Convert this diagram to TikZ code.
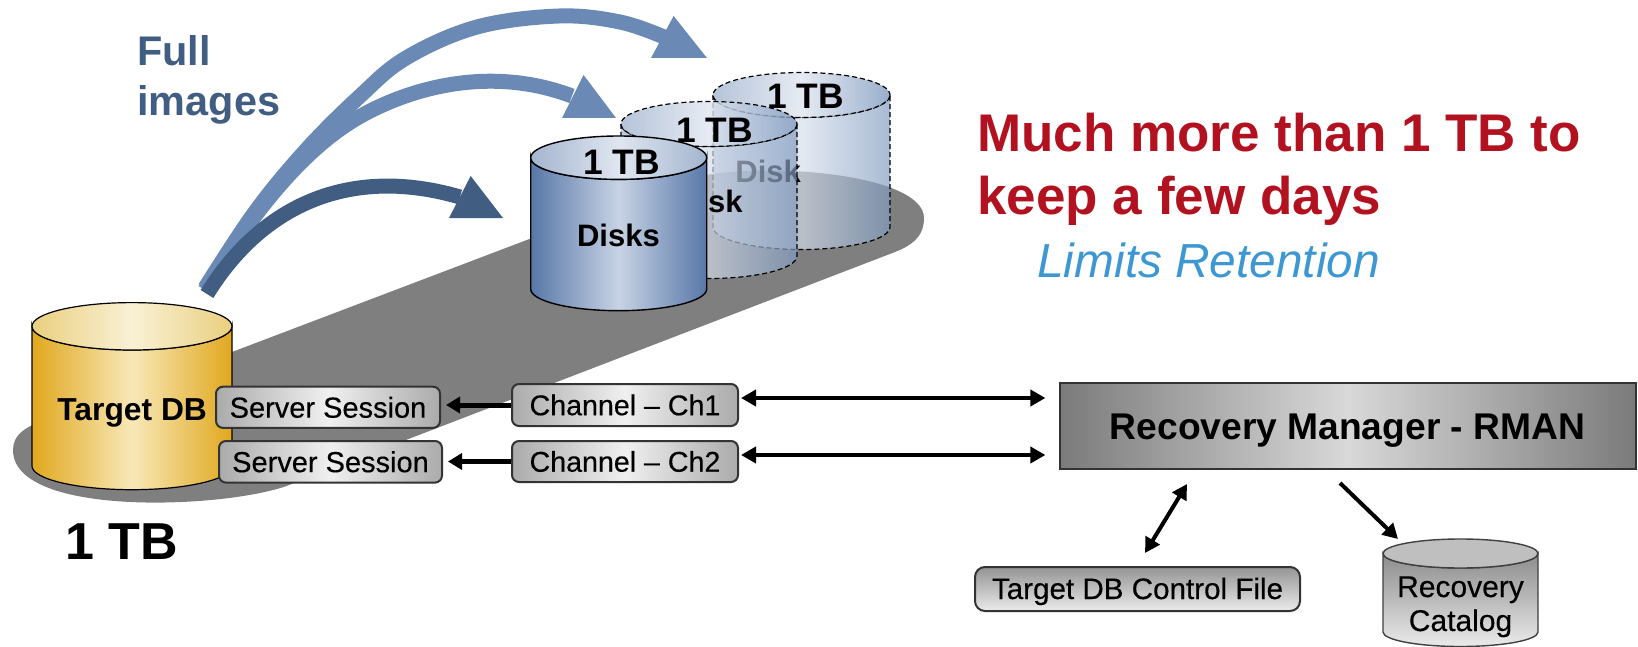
\documentclass[tikz,border=0pt]{standalone}
\usepackage{fontspec}
\setmainfont{Liberation Sans}
\newfontfamily\medfont[FakeBold=0.35]{Liberation Sans}
\usetikzlibrary{arrows.meta}
\definecolor{pillgray}{HTML}{7F7F7F}
\definecolor{arrowlight}{HTML}{6A8AB5}
\definecolor{arrowdark}{HTML}{425D82}
\definecolor{redtxt}{HTML}{B2121F}
\definecolor{bluetxt}{HTML}{3D97D3}
\newcommand\fs[1]{\fontsize{#1}{#1}\selectfont}
\newcommand\mycyl[7]{%
  \pgfmathsetmacro\cx{(#1+#2)/2}\pgfmathsetmacro\rx{(#2-#1)/2}%
  \pgfmathsetmacro\krx{0.5523*\rx}\pgfmathsetmacro\kry{0.5523*#5}%
  \pgfmathsetmacro\ba{#4+\kry}\pgfmathsetmacro\bb{#4+#5}%
  \pgfmathsetmacro\ta{#3+\kry}\pgfmathsetmacro\tb{#3+#5}%
  \pgfmathsetmacro\xa{\cx-\krx}\pgfmathsetmacro\xb{\cx+\krx}%
  \path[#6] (#1,#3) -- (#1,#4) .. controls (#1,\ba) and (\xa,\bb) .. (\cx,\bb)
    .. controls (\xb,\bb) and (#2,\ba) .. (#2,#4) -- (#2,#3)
    .. controls (#2,\ta) and (\xb,\tb) .. (\cx,\tb)
    .. controls (\xa,\tb) and (#1,\ta) .. (#1,#3) -- cycle;
  \path[#7] (\cx,#3) ellipse [x radius=\rx, y radius=#5];
}
\tikzset{
  txt/.style={inner sep=0pt,anchor=base west,text=black},
  bigarrow/.style={line width=7.5pt,line cap=butt},
  headlight/.style={fill=arrowlight},
  headdark/.style={fill=arrowdark},
  sbox/.style={draw=black!80,line width=1pt,rounded corners=3.5pt,inner sep=0pt,
    left color=black!33,right color=black!33,middle color=black!6,
    font=\fs{14.5}\medfont},
  fbox/.style={draw=black!80,line width=1pt,rounded corners=5pt,inner sep=0pt,
    top color=black!42,bottom color=black!8,font=\fs{14.8}\medfont,text depth=0pt,text height=10pt},
  rbox/.style={draw=black!80,line width=1pt,inner sep=0pt,
    left color=black!52,right color=black!52,middle color=black!15,
    font=\fs{18.6}\bfseries,text depth=0pt,text height=13pt},
  link/.style={line width=2pt,-{Triangle[length=7.5pt,width=8pt]}},
  slink/.style={line width=2.5pt,-{Triangle[length=7pt,width=8pt]}},
  dlink/.style={line width=2pt,{Triangle[length=7.5pt,width=8pt]}-{Triangle[length=7.5pt,width=8pt]}},
  goldbody/.style={draw=black,line width=.6pt,left color=goldA,right color=goldA,middle color=goldB},
  goldtop/.style={draw=black,line width=.6pt,left color=goldC,right color=goldC,middle color=goldD},
  bluebody/.style={draw=black,line width=.7pt,left color=blueA,right color=blueA,middle color=blueB},
  bluetop/.style={draw=black,line width=.7pt,left color=blueC,right color=blueC,middle color=blueD},
  ghostbody/.style={draw=black,line width=.6pt,dash pattern=on 2.5pt off 1.5pt,fill opacity=.68,left color=blueF,right color=blueE,middle color=blueG},
  ghosttop/.style={draw=black,line width=.6pt,dash pattern=on 2.5pt off 1.5pt,fill opacity=.8,left color=blueC,right color=blueE,middle color=blueD},
  graybody/.style={draw=black!75,line width=.7pt,top color=black!45,bottom color=black!8},
  graytop/.style={draw=black!75,line width=.7pt,fill=black!25},
}
\definecolor{goldA}{HTML}{E0A81E}\definecolor{goldB}{HTML}{F8E8B8}
\definecolor{goldC}{HTML}{E9CF7E}\definecolor{goldD}{HTML}{FAF1D6}
\definecolor{blueA}{HTML}{5877A8}\definecolor{blueB}{HTML}{C8D3E4}
\definecolor{blueC}{HTML}{A3B5CF}\definecolor{blueD}{HTML}{E0E6F0}\definecolor{blueE}{HTML}{7F9ABF}
\definecolor{blueF}{HTML}{A0B2CE}\definecolor{blueG}{HTML}{D6DEEB}
\begin{document}
\begin{tikzpicture}[x=0.5pt,y=-0.5pt]
\useasboundingbox (0,0) rectangle (1638,647);
% ground shadow
\path[fill=pillgray] (232,352) -- (690,178) .. controls (770,160) and (924,175) .. (924,218)
  .. controls (924,238) and (910,246) .. (895,252) -- (294,483)
  .. controls (240,508) and (13,520) .. (13,450) .. controls (13,420) and (60,420) .. (100,400) -- cycle;
% arrows
\coordinate (tailT) at (205,288);
\draw[bigarrow,arrowlight] plot[smooth,tension=.6] coordinates {(205,288) (255,212) (306,150) (359,97) (406,58) (477,27) (559,16) (620,22) (664,37)};
\path[headlight] (707,58) -- (673.6,16) -- (651,58) -- cycle;
\coordinate (tailM) at (205,290);
\draw[bigarrow,arrowlight] (tailM) .. controls (260,200) and (310,145) .. (359,117)
  .. controls (410,88) and (490,65) .. (572,96);
\path[headlight] (616,118) -- (583.6,75) -- (562,118) -- cycle;
\coordinate (tailD) at (207,294);
\draw[bigarrow,arrowdark] (tailD) .. controls (262,205) and (350,165) .. (460,197);
\path[headdark] (503,218) -- (470.7,176) -- (449,218) -- cycle;
% back disk
\mycyl{713}{890}{95}{227}{22.5}{ghostbody}{ghosttop}
\node[txt,font=\fs{15.5}\bfseries] (dback) at (735,183) {Disk};
\node[txt,font=\fs{17.7}\bfseries] (tback) at (766.7,109) {1 TB};
% middle disk
\mycyl{621}{797}{124}{256}{22.5}{ghostbody}{ghosttop}
\node[txt,font=\fs{15.5}\bfseries,anchor=base east] (dmid) at (743,213) {Disk};
\node[txt,font=\fs{17.7}\bfseries] (tmid) at (675.7,142.7) {1 TB};
% front disk
\mycyl{530.7}{706.7}{157.7}{289}{21.7}{bluebody}{bluetop}
\node[txt,font=\fs{17.7}\bfseries] (tfront) at (583,175) {1 TB};
\node[txt,font=\fs{15.5}\bfseries] (dfront) at (576.7,246) {Disks};
% target cylinder
\mycyl{32}{232}{326.3}{466}{23.7}{goldbody}{goldtop}
\node[txt,font=\fs{15.9}\bfseries] (tdb) at (57,420) {Target DB};
\node[txt,font=\fs{26}\bfseries] (sz) at (65,559) {1 TB};
% labels
\node[txt,font=\fs{20.7}\bfseries,text=arrowdark] (full) at (137,65.7) {Full};
\node[txt,font=\fs{20.7}\bfseries,text=arrowdark] (images) at (137,116) {images};
\node[txt,font=\fs{26.5}\bfseries,text=redtxt] (much) at (977,151.5) {Much more than 1 TB to};
\node[txt,font=\fs{26.5}\bfseries,text=redtxt] (keep) at (977,214) {keep a few days};
\node[txt,font=\fs{23.9}\itshape,text=bluetxt] (limits) at (1037,277) {Limits Retention};
% boxes
\node[sbox,minimum width=112pt,minimum height=20.6pt] (ss1) at (328,407.3) {Server Session};
\node[sbox,minimum width=111.5pt,minimum height=20.8pt] (ss2) at (330.5,461.8) {Server Session};
\node[sbox,minimum width=113pt,minimum height=21pt,font=\fs{14.3}\medfont] (ch1) at (625,405) {Channel – Ch1};
\node[sbox,minimum width=113pt,minimum height=20.5pt,font=\fs{14.3}\medfont] (ch2) at (625,461.5) {Channel – Ch2};
\node[rbox,minimum width=288pt,minimum height=43pt] (rman) at (1347.5,426) {Recovery Manager - RMAN};
\node[fbox,minimum width=162.5pt,minimum height=22pt] (tcf) at (1137.5,589) {Target DB Control File};
% catalog
\mycyl{1383}{1538}{553.5}{632}{14.5}{graybody}{graytop}
\node[txt,font=\fs{15}\medfont,anchor=base] (rec) at (1460.5,597) {Recovery};
\node[txt,font=\fs{15}\medfont,anchor=base] (cat) at (1460.5,631) {Catalog};
% connectors
\draw[slink,shorten >=2.5pt] (ch1.west) -- (ch1.west -| ss1.east);
\draw[slink,shorten >=2.5pt] (ch2.west) -- (ch2.west -| ss2.east);
\coordinate (r1) at (1045.4,398);
\coordinate (r2) at (1045.4,455);
\draw[dlink,shorten <=1pt] (ch1.east |- r1) -- (r1);
\draw[dlink,shorten <=1pt] (ch2.east |- r2) -- (r2);
\coordinate (u1) at (1187,484);
\coordinate (u2) at (1145,553);
\draw[dlink] (u1) -- (u2);
\coordinate (v1) at (1340,483);
\coordinate (v2) at (1398,539);
\draw[link] (v1) -- (v2);
\end{tikzpicture}
\end{document}
